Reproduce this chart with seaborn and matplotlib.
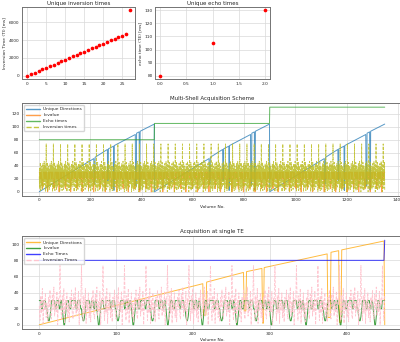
import numpy as np
import matplotlib
matplotlib.use("Agg")
import matplotlib.pyplot as plt
import seaborn as sns

# unique inversion times (ms), index 0..27
TI_MS = [0, 180, 360, 540, 720, 900, 1080, 1260, 1440, 1620, 1800, 1980, 2160, 2340,
         2520, 2700, 2880, 3060, 3240, 3420, 3600, 3780, 3960, 4140, 4320, 4500, 4680, 7350]
# unique echo times (ms)
TE_MS = [80, 105, 130]
VOLS_PER_TE = 450

# order of the inversion times inside one repeat (indices into TI_MS)
TI_ORDER = [13, 3, 20, 8, 25, 1, 17, 10, 22, 5, 15, 2, 19, 12,
            24, 7, 4, 21, 11, 26, 6, 16, 9, 23, 0, 18, 14, 27]
# b-value / 100 over one repeat of the diffusion table
B_PATTERN = [30, 30, 30, 20, 20, 30, 30, 30, 30, 20, 20, 10, 5, 5, 10,
             20, 30, 30, 30, 30, 30, 20, 20, 30, 30, 30, 20, 20, 30, 30,
             20, 10, 0, 0, 10, 20, 30, 30, 30, 20, 20, 20, 30, 30, 30]
# unique direction index within one TE shell (volume, value)
UD_VOL = [0, 213, 214, 217, 218, 266, 267, 269, 270, 290, 291, 292, 293,
          375, 376, 379, 380, 390, 391, 393, 394, 449]
UD_VAL = [0, 51, 12, 12, 53, 65, 17, 17, 66, 70, 2, 2, 71,
          88, 9, 9, 90, 92, 3, 3, 93, 104]

n_vol = VOLS_PER_TE * len(TE_MS)
vol = np.arange(n_vol)
ti_seq = np.array(TI_MS)[np.resize(TI_ORDER, n_vol)] / 100
b_seq = np.resize(B_PATTERN, n_vol)
te_seq = np.repeat(TE_MS, VOLS_PER_TE)

ud_x = np.concatenate([np.array(UD_VOL) + k * VOLS_PER_TE for k in range(len(TE_MS))])
ud_y = np.tile(UD_VAL, len(TE_MS))

sns.set_style("whitegrid")
plt.rcParams.update({
    "axes.edgecolor": "0.45",
    "axes.linewidth": 0.7,
    "grid.color": "0.85",
    "grid.linewidth": 0.5,
    "xtick.labelsize": 3.1,
    "ytick.labelsize": 3.1,
    "xtick.major.pad": 1.8,
    "ytick.major.pad": 1.8,
    "axes.labelsize": 3.2,
    "axes.titlesize": 4.0,
    "axes.titlepad": 1.8,
    "axes.labelpad": 1.8,
})
plt.rcParams["font.family"] = ["DejaVu Sans"]

fig = plt.figure(figsize=(4, 3.42), dpi=100)
ax_ti = fig.add_axes([0.055, 0.769, 0.2825, 0.2105])
ax_te = fig.add_axes([0.3875, 0.769, 0.2875, 0.2105])
ax_ms = fig.add_axes([0.055, 0.427, 0.95, 0.272])
ax_st = fig.add_axes([0.055, 0.038, 0.95, 0.272])

# unique inversion times
sns.scatterplot(x=np.arange(len(TI_MS)), y=TI_MS, ax=ax_ti, color="red", s=7, linewidth=0)
ax_ti.set_title("Unique inversion times")
ax_ti.set_ylabel("Inversion Time (TI) [ms]")
ax_ti.set_xticks([0, 5, 10, 15, 20, 25])
ax_ti.set_yticks([0, 2000, 4000, 6000])

# unique echo times
sns.scatterplot(x=np.arange(len(TE_MS)), y=TE_MS, ax=ax_te, color="red", s=7, linewidth=0)
ax_te.set_title("Unique echo times")
ax_te.set_ylabel("echo time (TE) [ms]")
ax_te.set_xticks([0, 0.5, 1.0, 1.5, 2.0])
ax_te.set_yticks([80, 90, 100, 110, 120, 130])

lw = 0.7
# multi-shell scheme
sns.lineplot(x=ud_x, y=ud_y, ax=ax_ms, estimator=None, sort=False,
             color="tab:blue", lw=lw, alpha=0.75, label="Unique Directions")
sns.lineplot(x=vol, y=b_seq, ax=ax_ms, estimator=None, sort=False,
             color="tab:orange", lw=lw, alpha=0.75, label="b-value")
sns.lineplot(x=vol, y=te_seq, ax=ax_ms, estimator=None, sort=False,
             color="tab:green", lw=lw, alpha=0.75, label="Echo times")
sns.lineplot(x=vol, y=ti_seq, ax=ax_ms, estimator=None, sort=False,
             color="tab:olive", lw=0.6, linestyle="--", alpha=0.85, label="Inversion times")
ax_ms.set_title("Multi-Shell Acquisition Scheme")
ax_ms.set_xlabel("Volume No.")
ax_ms.set_yticks([0, 20, 40, 60, 80, 100, 120])
ax_ms.set_xticks([0, 200, 400, 600, 800, 1000, 1200, 1400])
leg = ax_ms.legend(loc="upper left", fontsize=3.2, handlelength=3, borderpad=0.5, labelspacing=0.4)
for h in leg.get_lines():
    h.set_linewidth(1.0)

# single TE
n1 = VOLS_PER_TE + 1
st_ud_x = UD_VOL + [VOLS_PER_TE]
st_ud_y = UD_VAL + [0]
sns.lineplot(x=st_ud_x, y=st_ud_y, ax=ax_st, estimator=None, sort=False,
             color="orange", lw=lw, alpha=0.75, label="Unique Directions")
sns.lineplot(x=vol[:n1], y=b_seq[:n1], ax=ax_st, estimator=None, sort=False,
             color="green", lw=lw, alpha=0.75, label="b-value")
sns.lineplot(x=vol[:n1], y=te_seq[:n1], ax=ax_st, estimator=None, sort=False,
             color="blue", lw=lw, alpha=0.75, label="Echo Times")
sns.lineplot(x=vol[:n1], y=ti_seq[:n1], ax=ax_st, estimator=None, sort=False,
             color="pink", lw=0.6, linestyle="--", alpha=0.9, label="Inversion Times")
ax_st.set_title("Acquisition at single TE")
ax_st.set_xlabel("Volume No.")
ax_st.set_yticks([0, 20, 40, 60, 80, 100])
ax_st.set_xticks([0, 100, 200, 300, 400])
leg = ax_st.legend(loc="upper left", fontsize=3.2, handlelength=3, borderpad=0.5, labelspacing=0.4)
for h in leg.get_lines():
    h.set_linewidth(1.0)

for ax in (ax_ti, ax_te, ax_ms, ax_st):
    ax.tick_params(length=0)

fig.savefig("out.png", dpi=100)
